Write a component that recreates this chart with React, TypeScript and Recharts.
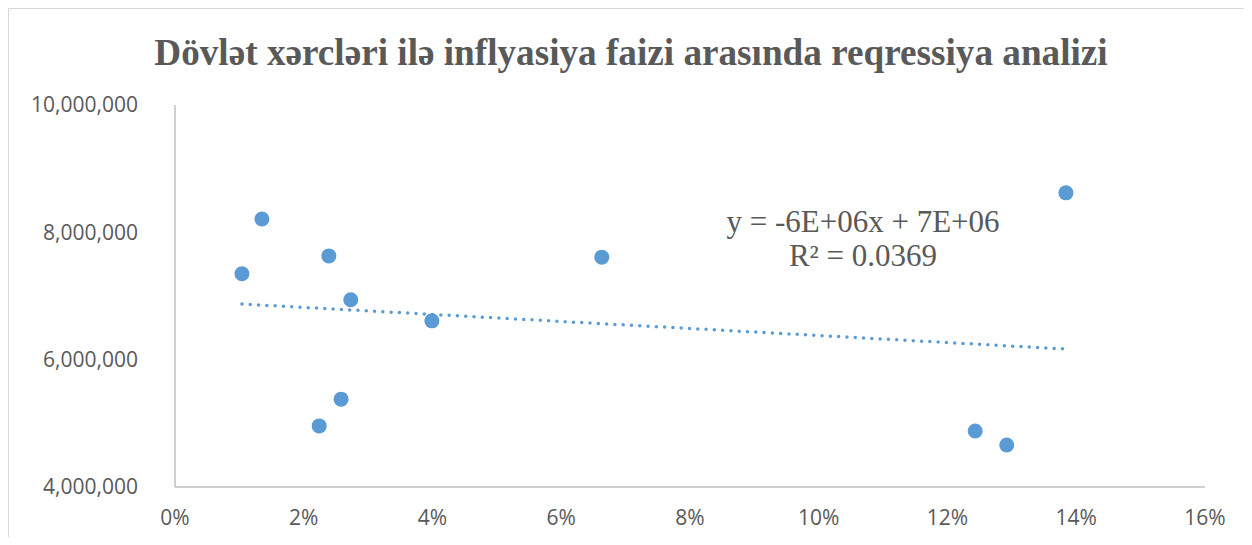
import React from 'react';
import { ScatterChart, Scatter, XAxis, YAxis } from 'recharts';

const INFLATION = [0.0104, 0.0135, 0.0239, 0.0273, 0.0224, 0.0258, 0.0399, 0.0663, 0.1243, 0.1292, 0.1384];
const SPENDING = [7350000, 8210000, 7630000, 6940000, 4960000, 5380000, 6610000, 7610000, 4880000, 4660000, 8620000];

const TREND_X = [0.0104, 0.1384];
const TREND_Y = [6874000, 6167000];

const X_TICKS = [0, 0.02, 0.04, 0.06, 0.08, 0.1, 0.12, 0.14, 0.16];
const Y_TICKS = [4000000, 6000000, 8000000, 10000000];

const TITLE = 'Dövlət xərcləri ilə inflyasiya faizi arasında reqressiya analizi';
const EQUATION = 'y = -6E+06x + 7E+06';
const R_SQUARED = 'R² = 0.0369';

const points = INFLATION.map((x, i) => ({ x, y: SPENDING[i] }));
const trend = TREND_X.map((x, i) => ({ x, y: TREND_Y[i] }));

const BLUE = '#5b9bd5';
const TEXT = '#595959';
const AXIS = '#bfbfbf';

const tickStyle = { fill: TEXT, fontSize: 21, fontFamily: '"Open Sans", sans-serif' };

const Dot = (props: any) => <circle cx={props.cx} cy={props.cy} r={7.5} fill={BLUE} />;
const NoDot = () => <g />;

export default function App() {
  return (
    <div
      style={{
        position: 'relative',
        width: 1235,
        height: 528,
        borderTop: '1px solid #d9d9d9',
        borderLeft: '1px solid #d9d9d9',
        overflow: 'hidden',
      }}
    >
      <div
        style={{
          position: 'absolute',
          left: 0,
          top: 25,
          width: 1244,
          textAlign: 'center',
          fontFamily: '"Liberation Serif", serif',
          fontWeight: 'bold',
          fontSize: 37.2,
          lineHeight: 1,
          color: TEXT,
          whiteSpace: 'nowrap',
        }}
      >
        {TITLE}
      </div>
      <ScatterChart width={1235} height={528} margin={{ top: 96, right: 39, left: 0, bottom: 0 }}>
        <XAxis
          type="number"
          dataKey="x"
          domain={[0, 0.16]}
          ticks={X_TICKS}
          tickFormatter={(v: number) => `${Math.round(v * 100)}%`}
          stroke={AXIS}
          strokeWidth={1.5}
          tickLine={false}
          tickSize={0}
          tickMargin={23}
          height={50}
          tick={tickStyle}
          interval={0}
        />
        <YAxis
          type="number"
          dataKey="y"
          domain={[4000000, 10000000]}
          ticks={Y_TICKS}
          tickFormatter={(v: number) => v.toLocaleString('en-US')}
          stroke={AXIS}
          strokeWidth={1.5}
          tickLine={false}
          tickSize={0}
          tickMargin={37}
          width={166}
          tick={tickStyle}
          interval={0}
        />
        <Scatter
          data={trend}
          line={{ stroke: BLUE, strokeWidth: 3.5, strokeDasharray: '0 8.3', strokeLinecap: 'round' }}
          shape={NoDot}
          isAnimationActive={false}
        />
        <Scatter data={points} shape={Dot} isAnimationActive={false} />
      </ScatterChart>
      <div
        style={{
          position: 'absolute',
          left: 654,
          top: 196,
          width: 400,
          textAlign: 'center',
          fontFamily: '"Liberation Serif", serif',
          fontSize: 31,
          lineHeight: '34px',
          color: TEXT,
          whiteSpace: 'nowrap',
        }}
      >
        <div>{EQUATION}</div>
        <div>{R_SQUARED}</div>
      </div>
    </div>
  );
}
